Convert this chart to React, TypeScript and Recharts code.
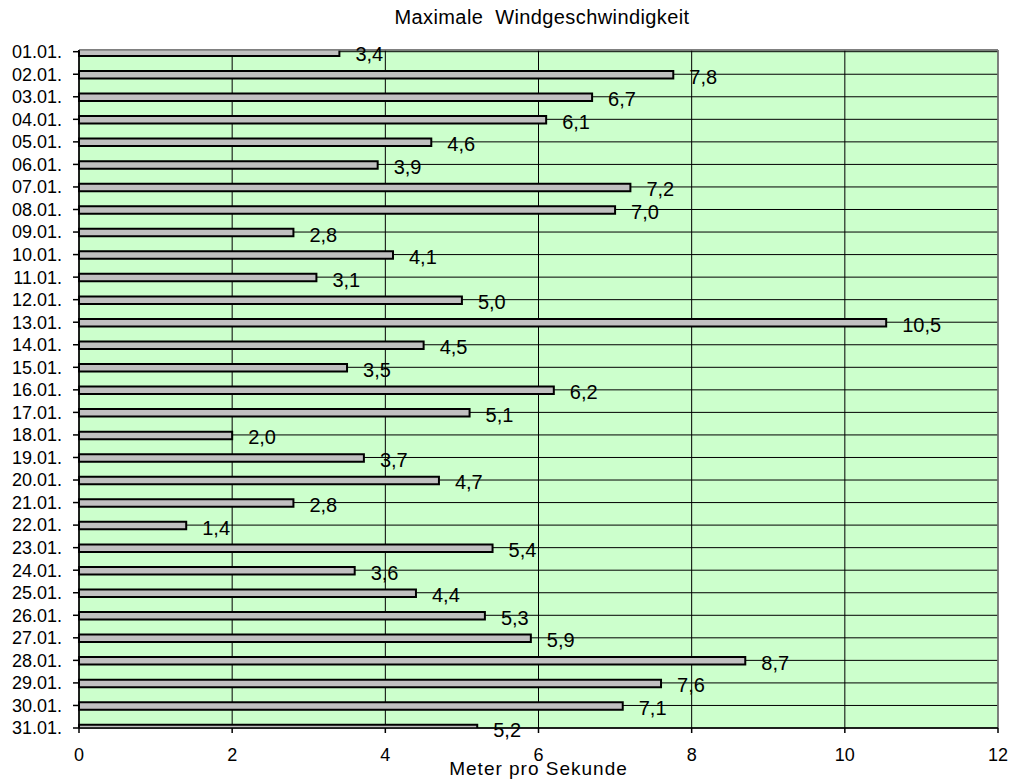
import React from 'react';
import {
  BarChart,
  Bar,
  XAxis,
  YAxis,
  CartesianGrid,
  ReferenceLine,
  Label,
  Customized,
} from 'recharts';

const categories = [
  '01.01.', '02.01.', '03.01.', '04.01.', '05.01.', '06.01.', '07.01.', '08.01.',
  '09.01.', '10.01.', '11.01.', '12.01.', '13.01.', '14.01.', '15.01.', '16.01.',
  '17.01.', '18.01.', '19.01.', '20.01.', '21.01.', '22.01.', '23.01.', '24.01.',
  '25.01.', '26.01.', '27.01.', '28.01.', '29.01.', '30.01.', '31.01.',
];

const windSpeed = [
  3.4, 7.76, 6.7, 6.1, 4.6, 3.9, 7.2, 7.0, 2.8, 4.1, 3.1, 5.0, 10.54, 4.5, 3.5, 6.2,
  5.1, 2.0, 3.72, 4.7, 2.8, 1.4, 5.4, 3.6, 4.4, 5.3, 5.9, 8.7, 7.6, 7.1, 5.2,
];

const xTicks = [0, 2, 4, 6, 8, 10, 12];
const xDomain: [number, number] = [0, 12];
const yDomain: [number, number] = [0.925, 31];

const title = 'Maximale  Windgeschwindigkeit';
const xTitle = 'Meter pro Sekunde';

const data = categories.map((c, i) => ({ day: i + 1, label: c, speed: windSpeed[i] }));
const dayTicks = categories.map((_, i) => i + 1);

const FONT = '"Liberation Sans", Arial, sans-serif';

const renderBarLabel = (props: any) => {
  const { x, y, width, height, value } = props;
  const v = Number(value);
  return (
    <text
      x={Number(x) + Number(width) + 16}
      y={Number(y) + Number(height) / 2 + 9}
      fontSize={20}
      fill="#000"
      fontFamily={FONT}
    >
      {v.toFixed(1).replace('.', ',')}
    </text>
  );
};

const Title = () => (
  <text
    x={542}
    y={24}
    textAnchor="middle"
    fontSize={20}
    fill="#000"
    fontFamily={FONT}
    style={{ whiteSpace: 'pre', letterSpacing: '0.4px' }}
  >
    {title}
  </text>
);

export default function App() {
  return (
    <div
      style={{
        position: 'absolute',
        left: 0,
        top: 0,
        width: 1011,
        height: 782,
        background: '#fff',
        fontFamily: FONT,
      }}
    >
      <BarChart
        width={1011}
        height={782}
        data={data}
        layout="vertical"
        margin={{ top: 50, right: 13, bottom: 0, left: 0 }}
      >
        <CartesianGrid stroke="#000" fill="#CCFFCC" strokeWidth={1} />
        <XAxis
          type="number"
          domain={xDomain}
          ticks={xTicks}
          interval={0}
          height={54}
          tickSize={5}
          tickMargin={15}
          stroke="#000"
          strokeWidth={1.5}
          tick={{ fill: '#000', fontSize: 18 }}
        >
          <Label
            position="insideBottom"
            content={(p: any) => {
              const vb = p.viewBox || {};
              return (
                <text
                  x={vb.x + vb.width / 2}
                  y={vb.y + vb.height - 7}
                  textAnchor="middle"
                  fontSize={19}
                  fill="#000"
                  fontFamily={FONT}
                  style={{ letterSpacing: '1px' }}
                >
                  {xTitle}
                </text>
              );
            }}
          />
        </XAxis>
        <YAxis
          type="number"
          dataKey="day"
          domain={yDomain}
          ticks={dayTicks}
          interval={0}
          allowDataOverflow
          width={79}
          tickSize={6}
          tickMargin={11}
          stroke="#000"
          strokeWidth={1.5}
          tick={{ fill: '#000', fontSize: 18 }}
          tickFormatter={(v: number) => categories[v - 1]}
        />
        <ReferenceLine x={12} stroke="#808080" strokeWidth={1.5} />
        <ReferenceLine y={0.925} stroke="#808080" strokeWidth={1.5} />
        <Bar
          dataKey="speed"
          barSize={7.5}
          fill="#C0C0C0"
          stroke="#000"
          strokeWidth={2}
          isAnimationActive={false}
          label={renderBarLabel}
        />
        <Customized component={<Title />} />
      </BarChart>
    </div>
  );
}
